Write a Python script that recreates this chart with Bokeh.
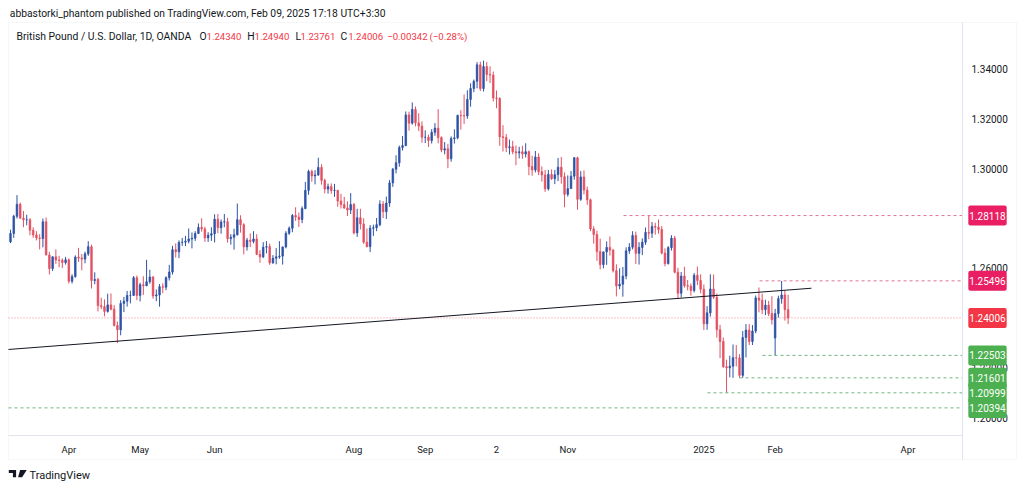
import pandas as pd
from bokeh.plotting import figure
from bokeh.models import (ColumnDataSource, Range1d, FixedTicker, Label, LinearAxis,
                          BoxAnnotation, NumeralTickFormatter)
from bokeh.embed import file_html
from bokeh.resources import INLINE

# ---------------- data (GBP/USD daily, OANDA) ----------------
FIRST_DAY = "2024-03-06"
HOLIDAYS = ["2024-12-25", "2025-01-01"]

opens = [
    # Mar 2024
    1.2706, 1.2740, 1.2809, 1.2857, 1.2801, 1.2795, 1.2795, 1.2753, 1.2734, 1.2722, 1.2720, 1.2787, 1.2653, 1.2599, 1.2646, 1.2633, 1.2632, 1.2623,
    # Apr
    1.2634, 1.2548, 1.2567, 1.2645, 1.2641, 1.2637, 1.2658, 1.2687, 1.2551, 1.2555, 1.2450, 1.2446, 1.2427, 1.2453, 1.2436, 1.2370, 1.2353, 1.2459, 1.2468, 1.2491, 1.2491, 1.2562,
    # May
    1.2491, 1.2534, 1.2530, 1.2546, 1.2565, 1.2489, 1.2493, 1.2526, 1.2524, 1.2562, 1.2585, 1.2675, 1.2666, 1.2704, 1.2705, 1.2709, 1.2718, 1.2721, 1.2740, 1.2764, 1.2758, 1.2722, 1.2733,
    # Jun
    1.2739, 1.2797, 1.2763, 1.2786, 1.2787, 1.2719, 1.2725, 1.2735, 1.2795, 1.2775, 1.2686, 1.2713, 1.2708, 1.2718, 1.2656, 1.2646, 1.2685, 1.2687, 1.2622, 1.2640,
    # Jul
    1.2646, 1.2649, 1.2686, 1.2741, 1.2761, 1.2812, 1.2806, 1.2796, 1.2840, 1.2913, 1.2989, 1.2971, 1.2975, 1.3005, 1.2953, 1.2918, 1.2928, 1.2912, 1.2913, 1.2870, 1.2856, 1.2842, 1.2834,
    # Aug
    1.2856, 1.2742, 1.2803, 1.2778, 1.2705, 1.2687, 1.2761, 1.2763, 1.2775, 1.2858, 1.2827, 1.2862, 1.2943, 1.2998, 1.3024, 1.3085, 1.3093, 1.3216, 1.3183, 1.3238, 1.3184, 1.3171,
    # Sep
    1.3126, 1.3126, 1.3113, 1.3146, 1.3163, 1.3125, 1.3075, 1.3080, 1.3040, 1.3121, 1.3124, 1.3214, 1.3213, 1.3212, 1.3278, 1.3322, 1.3351, 1.3417, 1.3322, 1.3410, 1.3378,
    # Oct
    1.3376, 1.3284, 1.3282, 1.3128, 1.3125, 1.3085, 1.3088, 1.3068, 1.3064, 1.3068, 1.3059, 1.3068, 1.3009, 1.2995, 1.3047, 1.2988, 1.2975, 1.2919, 1.2977, 1.2960, 1.2976, 1.3006, 1.2968,
    # Nov
    1.2897, 1.2920, 1.2970, 1.3044, 1.2877, 1.2967, 1.2914, 1.2875, 1.2758, 1.2736, 1.2667, 1.2615, 1.2666, 1.2684, 1.2673, 1.2590, 1.2529, 1.2536, 1.2569, 1.2670, 1.2685,
    # Dec
    1.2732, 1.2660, 1.2684, 1.2705, 1.2744, 1.2741, 1.2768, 1.2765, 1.2756, 1.2661, 1.2619, 1.2683, 1.2721, 1.2584, 1.2500, 1.2569, 1.2530, 1.2528, 1.2511, 1.2572, 1.2551,
    # Jan 2025
    1.2516, 1.2377, 1.2421, 1.2517, 1.2484, 1.2353, 1.2306, 1.2205, 1.2200, 1.2207, 1.2241, 1.2240, 1.2170, 1.2322, 1.2352, 1.2306, 1.2348, 1.2481, 1.2472, 1.2434, 1.2452, 1.2418,
    # Feb
    1.2320, 1.2418, 1.2478, 1.2493, 1.2434,
]

highs = [
    1.2755, 1.2815, 1.2894, 1.2864, 1.2830, 1.2815, 1.2801, 1.2765, 1.2749, 1.2737, 1.2800, 1.2804, 1.2666, 1.2648, 1.2676, 1.2650, 1.2640, 1.2646,
    1.2640, 1.2576, 1.2652, 1.2682, 1.2657, 1.2667, 1.2709, 1.2695, 1.2584, 1.2562, 1.2482, 1.2475, 1.2498, 1.2499, 1.2452, 1.2386, 1.2472, 1.2485, 1.2509, 1.2510, 1.2569, 1.2571,
    1.2542, 1.2568, 1.2634, 1.2594, 1.2569, 1.2515, 1.2537, 1.2540, 1.2568, 1.2614, 1.2690, 1.2700, 1.2712, 1.2722, 1.2730, 1.2760, 1.2744, 1.2749, 1.2780, 1.2801, 1.2767, 1.2745, 1.2765,
    1.2817, 1.2818, 1.2796, 1.2818, 1.2803, 1.2737, 1.2759, 1.2860, 1.2813, 1.2781, 1.2722, 1.2740, 1.2749, 1.2737, 1.2673, 1.2705, 1.2709, 1.2699, 1.2653, 1.2681,
    1.2709, 1.2687, 1.2749, 1.2768, 1.2818, 1.2845, 1.2824, 1.2849, 1.2947, 1.2996, 1.2996, 1.2994, 1.3044, 1.3018, 1.2960, 1.2940, 1.2941, 1.2939, 1.2915, 1.2899, 1.2887, 1.2869, 1.2902,
    1.2862, 1.2839, 1.2839, 1.2801, 1.2760, 1.2774, 1.2775, 1.2802, 1.2873, 1.2870, 1.2888, 1.2955, 1.3003, 1.3054, 1.3093, 1.3131, 1.3230, 1.3229, 1.3266, 1.3250, 1.3223, 1.3190,
    1.3154, 1.3137, 1.3159, 1.3183, 1.3239, 1.3130, 1.3107, 1.3100, 1.3130, 1.3158, 1.3217, 1.3235, 1.3298, 1.3315, 1.3343, 1.3358, 1.3428, 1.3430, 1.3434, 1.3429, 1.3411,
    1.3390, 1.3314, 1.3287, 1.3175, 1.3139, 1.3117, 1.3112, 1.3093, 1.3088, 1.3092, 1.3102, 1.3073, 1.3052, 1.3071, 1.3062, 1.3009, 1.2995, 1.2995, 1.2997, 1.2995, 1.3043, 1.3047, 1.2985,
    1.2973, 1.2991, 1.3047, 1.3048, 1.2990, 1.2993, 1.2928, 1.2880, 1.2769, 1.2751, 1.2719, 1.2665, 1.2708, 1.2728, 1.2678, 1.2616, 1.2600, 1.2605, 1.2684, 1.2701, 1.2749,
    1.2747, 1.2705, 1.2720, 1.2764, 1.2811, 1.2786, 1.2783, 1.2796, 1.2770, 1.2680, 1.2689, 1.2733, 1.2730, 1.2602, 1.2585, 1.2606, 1.2553, 1.2539, 1.2581, 1.2607, 1.2576,
    1.2535, 1.2448, 1.2576, 1.2575, 1.2499, 1.2373, 1.2322, 1.2233, 1.2249, 1.2294, 1.2292, 1.2255, 1.2348, 1.2376, 1.2376, 1.2372, 1.2491, 1.2523, 1.2498, 1.2474, 1.2469, 1.2488,
    1.2437, 1.2490, 1.2549, 1.2512, 1.2494,
]

lows = [
    1.2701, 1.2722, 1.2800, 1.2800, 1.2765, 1.2773, 1.2733, 1.2723, 1.2712, 1.2676, 1.2684, 1.2653, 1.2575, 1.2589, 1.2618, 1.2604, 1.2601, 1.2615,
    1.2539, 1.2539, 1.2562, 1.2626, 1.2592, 1.2620, 1.2650, 1.2519, 1.2536, 1.2427, 1.2436, 1.2407, 1.2422, 1.2431, 1.2367, 1.2300, 1.2331, 1.2424, 1.2446, 1.2459, 1.2490, 1.2472,
    1.2467, 1.2493, 1.2528, 1.2538, 1.2478, 1.2468, 1.2446, 1.2500, 1.2512, 1.2551, 1.2575, 1.2643, 1.2641, 1.2690, 1.2689, 1.2700, 1.2680, 1.2710, 1.2738, 1.2747, 1.2706, 1.2706, 1.2710,
    1.2704, 1.2741, 1.2739, 1.2765, 1.2703, 1.2695, 1.2675, 1.2731, 1.2743, 1.2656, 1.2671, 1.2685, 1.2700, 1.2653, 1.2622, 1.2641, 1.2660, 1.2614, 1.2618, 1.2616,
    1.2638, 1.2615, 1.2680, 1.2734, 1.2745, 1.2790, 1.2766, 1.2781, 1.2837, 1.2895, 1.2948, 1.2937, 1.2971, 1.2936, 1.2901, 1.2900, 1.2899, 1.2887, 1.2847, 1.2840, 1.2839, 1.2810, 1.2818,
    1.2736, 1.2726, 1.2756, 1.2698, 1.2684, 1.2665, 1.2730, 1.2749, 1.2769, 1.2802, 1.2798, 1.2847, 1.2927, 1.2981, 1.3008, 1.3073, 1.3090, 1.3153, 1.3177, 1.3170, 1.3151, 1.3104,
    1.3103, 1.3087, 1.3101, 1.3132, 1.3102, 1.3066, 1.3058, 1.3002, 1.3028, 1.3101, 1.3118, 1.3157, 1.3180, 1.3200, 1.3249, 1.3307, 1.3323, 1.3312, 1.3310, 1.3352, 1.3344,
    1.3270, 1.3243, 1.3092, 1.3069, 1.3067, 1.3057, 1.3058, 1.3014, 1.3041, 1.3040, 1.3045, 1.2974, 1.2972, 1.2985, 1.2974, 1.2948, 1.2907, 1.2912, 1.2955, 1.2938, 1.2950, 1.2940, 1.2845,
    1.2888, 1.2919, 1.2956, 1.2835, 1.2871, 1.2897, 1.2855, 1.2749, 1.2699, 1.2630, 1.2596, 1.2600, 1.2614, 1.2651, 1.2583, 1.2487, 1.2516, 1.2486, 1.2556, 1.2658, 1.2676,
    1.2617, 1.2615, 1.2653, 1.2694, 1.2717, 1.2722, 1.2735, 1.2739, 1.2656, 1.2608, 1.2615, 1.2671, 1.2580, 1.2476, 1.2483, 1.2522, 1.2511, 1.2490, 1.2503, 1.2532, 1.2500,
    1.2352, 1.2353, 1.2406, 1.2477, 1.2322, 1.2239, 1.2200, 1.2100, 1.2162, 1.2160, 1.2206, 1.2160, 1.2160, 1.2242, 1.2292, 1.2292, 1.2339, 1.2423, 1.2416, 1.2412, 1.2408, 1.2374,
    1.2249, 1.2402, 1.2458, 1.2390, 1.2376,
]

closes = [
    1.2740, 1.2809, 1.2857, 1.2801, 1.2795, 1.2795, 1.2753, 1.2734, 1.2722, 1.2720, 1.2787, 1.2653, 1.2599, 1.2646, 1.2633, 1.2632, 1.2623, 1.2634,
    1.2548, 1.2567, 1.2645, 1.2641, 1.2637, 1.2658, 1.2687, 1.2551, 1.2555, 1.2450, 1.2446, 1.2427, 1.2453, 1.2436, 1.2370, 1.2353, 1.2459, 1.2468, 1.2491, 1.2491, 1.2562, 1.2491,
    1.2534, 1.2530, 1.2546, 1.2565, 1.2489, 1.2493, 1.2526, 1.2524, 1.2562, 1.2585, 1.2675, 1.2666, 1.2704, 1.2705, 1.2709, 1.2718, 1.2721, 1.2740, 1.2764, 1.2758, 1.2722, 1.2733, 1.2739,
    1.2797, 1.2763, 1.2786, 1.2787, 1.2719, 1.2725, 1.2735, 1.2795, 1.2775, 1.2686, 1.2713, 1.2708, 1.2718, 1.2656, 1.2646, 1.2685, 1.2687, 1.2622, 1.2640, 1.2646,
    1.2649, 1.2686, 1.2741, 1.2761, 1.2812, 1.2806, 1.2796, 1.2840, 1.2913, 1.2989, 1.2971, 1.2975, 1.3005, 1.2953, 1.2918, 1.2928, 1.2912, 1.2913, 1.2870, 1.2856, 1.2842, 1.2834, 1.2856,
    1.2742, 1.2803, 1.2778, 1.2705, 1.2687, 1.2761, 1.2763, 1.2775, 1.2858, 1.2827, 1.2862, 1.2943, 1.2998, 1.3024, 1.3085, 1.3093, 1.3216, 1.3183, 1.3238, 1.3184, 1.3171, 1.3126,
    1.3126, 1.3113, 1.3146, 1.3163, 1.3125, 1.3075, 1.3080, 1.3040, 1.3121, 1.3124, 1.3214, 1.3213, 1.3212, 1.3278, 1.3322, 1.3351, 1.3417, 1.3322, 1.3410, 1.3378, 1.3376,
    1.3284, 1.3282, 1.3128, 1.3125, 1.3085, 1.3088, 1.3068, 1.3064, 1.3068, 1.3059, 1.3068, 1.3009, 1.2995, 1.3047, 1.2988, 1.2975, 1.2919, 1.2977, 1.2960, 1.2976, 1.3006, 1.2968, 1.2897,
    1.2920, 1.2970, 1.3044, 1.2877, 1.2967, 1.2914, 1.2875, 1.2758, 1.2736, 1.2667, 1.2615, 1.2666, 1.2684, 1.2673, 1.2590, 1.2529, 1.2536, 1.2569, 1.2670, 1.2685, 1.2732,
    1.2660, 1.2684, 1.2705, 1.2744, 1.2741, 1.2768, 1.2765, 1.2756, 1.2661, 1.2619, 1.2683, 1.2721, 1.2584, 1.2500, 1.2569, 1.2530, 1.2528, 1.2511, 1.2572, 1.2551, 1.2516,
    1.2377, 1.2421, 1.2517, 1.2484, 1.2353, 1.2306, 1.2205, 1.2200, 1.2207, 1.2241, 1.2240, 1.2170, 1.2322, 1.2352, 1.2306, 1.2348, 1.2481, 1.2472, 1.2434, 1.2452, 1.2418, 1.2393,
    1.2418, 1.2478, 1.2493, 1.2434, 1.24006,
]

tick_dates = ["2024-04-01", "2024-05-01", "2024-06-03", "2024-08-01", "2024-09-02",
              "2024-10-02", "2024-11-01", "2025-01-02", "2025-02-03", "2025-04-01"]
tick_labels = ["Apr", "May", "Jun", "Aug", "Sep", "2", "Nov", "2025", "Feb", "Apr"]
price_ticks = [1.20, 1.22, 1.26, 1.30, 1.32, 1.34]

level_prices = [1.28118, 1.25496, 1.24006, 1.22503, 1.21601, 1.20999, 1.20394]
level_kinds = ["resistance", "resistance", "last", "support", "support", "support", "support"]
level_start_bar = [189.2, 231.2, None, 232.1, 225.0, 215.1, None]

trend_bars = [-0.62, 247.2]
trend_prices = [1.2274, 1.2520]

header_text = "abbastorki_phantom published on TradingView.com, Feb 09, 2025 17:18 UTC+3:30"
symbol_text = "British Pound / U.S. Dollar, 1D, OANDA"
ohlc_keys = ["O", "H", "L", "C"]
ohlc_vals = ["1.24340", "1.24940", "1.23761", "1.24006"]
change_vals = ["\u22120.00342", "(\u22120.28%)"]

# ---------------- layout helpers (reference pixel geometry) ----------------
W, H = 1024, 490
PX_PER_BAR = 3.24
BAR0_PX = 10.0
PX_PER_PRICE = 2490.0
REF_PRICE, REF_PY = 1.34, 68.6
PANE_L, PANE_R, PANE_T, PANE_B = 8, 962, 22, 435
BOX_R, BOX_B = 1016, 459


def bx(px):
    return (px - BAR0_PX) / PX_PER_BAR


def py(pyy):
    return REF_PRICE - (pyy - REF_PY) / PX_PER_PRICE


UP = "#2e53a6"
DOWN = "#e35162"
TXT = "#131722"
GRID = "#e0e3eb"
PINK = "#e91e63"
RED = "#f23645"
GREEN = "#4caf50"
PINK_LINE = "#e2719a"
GREEN_LINE = "#6fb77a"
FONT = "Roboto"

all_days = pd.bdate_range(FIRST_DAY, "2025-04-30")
all_days = all_days[~all_days.isin(pd.to_datetime(HOLIDAYS))]
n = len(closes)
tick_idx = [int(all_days.get_loc(pd.Timestamp(d))) for d in tick_dates]

x_lo, x_hi = bx(PANE_L), bx(PANE_R)

p = figure(width=W, height=H, x_range=Range1d(bx(0), bx(W)), y_range=Range1d(py(H), py(0)),
           x_axis_location=None, y_axis_location=None,
           output_backend="svg", toolbar_location=None,
           min_border_left=0, min_border_right=0, min_border_top=0, min_border_bottom=0,
           background_fill_color="white", border_fill_color="white",
           outline_line_color=None)
p.xgrid.visible = False
p.ygrid.visible = False

# price axis (drawn at the pane's right edge)
yax = LinearAxis(ticker=FixedTicker(ticks=price_ticks),
                 formatter=NumeralTickFormatter(format="0.00000"),
                 fixed_location=bx(PANE_R), bounds=(py(BOX_B), py(PANE_T)))
yax.major_tick_in = 0
yax.major_tick_out = 0
yax.minor_tick_in = 0
yax.minor_tick_out = 0
yax.major_label_standoff = 9
yax.axis_line_color = GRID
yax.major_label_text_font = FONT
yax.major_label_text_font_size = "10px"
yax.major_label_text_color = TXT
p.add_layout(yax, "right")

# time axis (drawn at the pane's bottom edge)
xax = LinearAxis(ticker=FixedTicker(ticks=tick_idx),
                 fixed_location=py(PANE_B), bounds=(bx(PANE_L), bx(PANE_R)))
xax.major_label_overrides = {i: lab for i, lab in zip(tick_idx, tick_labels)}
xax.major_tick_in = 0
xax.major_tick_out = 0
xax.minor_tick_in = 0
xax.minor_tick_out = 0
xax.major_label_standoff = 8
xax.axis_line_color = GRID
xax.major_label_text_font = FONT
xax.major_label_text_font_size = "9.5px"
xax.major_label_text_color = TXT
p.add_layout(xax, "below")

# outer chart box
p.add_layout(BoxAnnotation(left=bx(PANE_L), right=bx(BOX_R), top=py(PANE_T), bottom=py(BOX_B),
                           fill_alpha=0, line_color=GRID, line_width=1, level="underlay"))

# current price dotted line (behind candles)
for price, kind, start in zip(level_prices, level_kinds, level_start_bar):
    if kind == "last":
        p.line([x_lo, x_hi], [price, price], line_color=RED, line_alpha=0.6,
               line_width=1, line_dash="1 2")

# candles
src = ColumnDataSource(dict(
    x=list(range(n)), open=opens, high=highs, low=lows, close=closes,
    top=[max(o, c) for o, c in zip(opens, closes)],
    bottom=[min(o, c) for o, c in zip(opens, closes)],
    color=[UP if c >= o else DOWN for o, c in zip(opens, closes)],
))
p.segment(x0="x", y0="low", x1="x", y1="high", line_color="color", line_width=1, source=src)
p.vbar(x="x", width=0.5, top="top", bottom="bottom", fill_color="color",
       line_color="color", line_width=0.7, source=src)

# trend line
p.line(trend_bars, trend_prices, line_color=TXT, line_width=1)

# horizontal levels
for price, kind, start in zip(level_prices, level_kinds, level_start_bar):
    if kind == "last":
        continue
    col = PINK_LINE if kind == "resistance" else GREEN_LINE
    x0 = x_lo if start is None else start
    p.line([x0, x_hi], [price, price], line_color=col, line_alpha=1.0,
           line_width=1, line_dash="3 3")

# price tags on the axis
for price, kind in zip(level_prices, level_kinds):
    bg = {"resistance": PINK, "last": RED, "support": GREEN}[kind]
    p.add_layout(Label(x=x_hi, y=price, x_offset=25, text=f"{price:.5f}",
                       text_align="center", text_baseline="middle",
                       text_color="white", text_font=FONT, text_font_size="10px",
                       background_fill_color=bg, padding=(1, 6), border_radius=2))

# header lines
p.add_layout(Label(x=bx(9.3), y=py(13.3), text=header_text, text_align="left",
                   text_baseline="middle", text_color=TXT, text_font=FONT,
                   text_font_size="10.3px"))
p.add_layout(Label(x=bx(16), y=py(36), text=symbol_text, text_align="left",
                   text_baseline="middle", text_color=TXT, text_font=FONT,
                   text_font_size="10.4px"))
key_px = [199.0, 246.7, 295.0, 340.0]
val_px = [206.0, 254.0, 300.0, 347.7]
for k, v, kx, vx in zip(ohlc_keys, ohlc_vals, key_px, val_px):
    p.add_layout(Label(x=bx(kx), y=py(36), text=k, text_align="left", text_baseline="middle",
                       text_color=TXT, text_font=FONT, text_font_size="10.4px"))
    p.add_layout(Label(x=bx(vx), y=py(36), text=v, text_align="left", text_baseline="middle",
                       text_color=RED, text_font=FONT, text_font_size="9.6px"))
for t, tx in zip(change_vals, [386.7, 429.0]):
    p.add_layout(Label(x=bx(tx), y=py(36), text=t, text_align="left", text_baseline="middle",
                       text_color=RED, text_font=FONT, text_font_size="9.6px"))

# TradingView logo mark + name
logo_xs = [[bx(8.3), bx(15.6), bx(15.6), bx(12.4), bx(12.4), bx(8.3)],
           [bx(19.6), bx(26.2), bx(21.6), bx(17.6)]]
logo_ys = [[py(469.5), py(469.5), py(476.8), py(476.8), py(472.4), py(472.4)],
           [py(469.5), py(469.5), py(476.8), py(476.8)]]
p.patches(logo_xs, logo_ys, fill_color=TXT, line_color=None)
p.add_layout(Label(x=bx(29), y=py(474.5), text="TradingView", text_align="left",
                   text_baseline="middle", text_color=TXT, text_font=FONT,
                   text_font_size="11px"))

open("out.html", "w").write(file_html(p, INLINE))
